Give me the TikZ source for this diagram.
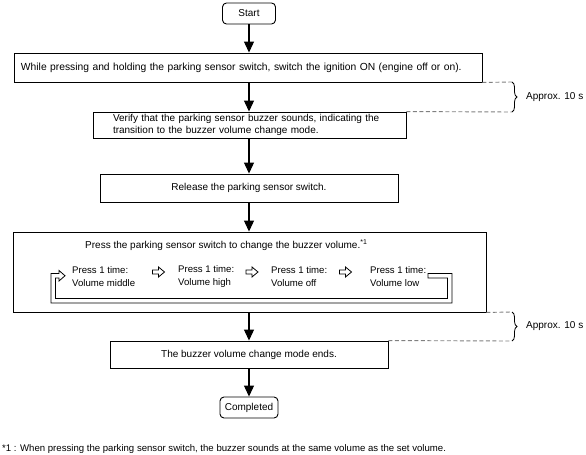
\documentclass[tikz,border=0pt]{standalone}
\usepackage{fontspec}
\setmainfont{Liberation Sans}
\usetikzlibrary{arrows.meta,decorations.pathreplacing}
\begin{document}
\begin{tikzpicture}[x=1bp,y=-1bp,
  every node/.style={font=\fontsize{10bp}{11.5bp}\selectfont, inner sep=0pt},
  itemtext/.style={anchor=west, align=left, font=\fontsize{9.6bp}{12.5bp}\selectfont},
  stepbox/.style={draw, line width=0.9bp, rectangle},
  termbox/.style={draw, line width=0.9bp, rounded corners=4bp},
  arr/.style={line width=1.1bp, -{Triangle[width=10bp,length=11bp]}},
  dashline/.style={draw=gray, line width=0.9bp, dash pattern=on 4bp off 2.5bp},
  bracedeco/.style={decorate, decoration={brace, amplitude=5bp}, line width=0.8bp},
  hollowarr/.pic={\draw[line width=0.8bp, line join=miter] (-6,-2) -- (0,-2) -- (0,-5) -- (6,0) -- (0,5) -- (0,2) -- (-6,2) -- cycle;}
]
\useasboundingbox (0,0) rectangle (586,455);

\node[termbox, minimum width=53bp, minimum height=21bp] (start) at (249,13.5) {Start};
\node[stepbox, minimum width=468bp, minimum height=29bp, text width=454bp, inner xsep=7bp, align=left, font=\fontsize{10.3bp}{12bp}\selectfont] (b1) at (248,67.5)
  {While pressing and holding the parking sensor switch, switch the ignition ON (engine off or on).};
\node[stepbox, minimum width=313bp, minimum height=26bp, text width=273bp, inner xsep=20bp, align=left] (b2) at (249.5,125)
  {Verify that the parking sensor buzzer sounds, indicating the\\transition to the buzzer volume change mode.};
\node[stepbox, minimum width=298bp, minimum height=28bp] (b3) at (249,188)
  {Release the parking sensor switch.};
\node[stepbox, minimum width=473bp, minimum height=80bp] (b4) at (249.5,272) {};
\node[anchor=west] (title) at (85,245)
  {Press the parking sensor switch to change the buzzer volume.\textsuperscript{*1}};
\node[itemtext] (v1) at (72,276.5) {Press 1 time:\\Volume middle};
\node[itemtext] (v2) at (178,276.5) {Press 1 time:\\Volume high};
\node[itemtext] (v3) at (271,276.5) {Press 1 time:\\Volume off};
\node[itemtext] (v4) at (370,276.5) {Press 1 time:\\Volume low};
\pic at (158.5,272) {hollowarr};
\pic at (252,272) {hollowarr};
\pic at (345.5,272) {hollowarr};
% loop
\draw[line width=0.8bp, line join=miter]
  (428,273.5) -- (452,273.5) -- (452,303) -- (51,303) -- (51,273.5) -- (59,273.5)
  -- (59,270.5) -- (65,275.75) -- (59,281) -- (59,278) -- (55.5,278) -- (55.5,298.5)
  -- (447.5,298.5) -- (447.5,278) -- (428,278) -- cycle;
\node[stepbox, minimum width=278bp, minimum height=27bp] (b5) at (249,354.5)
  {The buzzer volume change mode ends.};
\node[termbox, minimum width=58bp, minimum height=21bp] (done) at (249,407.5) {Completed};
\node[anchor=west, font=\fontsize{9.6bp}{11bp}\selectfont] (note) at (2,449)
  {*1 : When pressing the parking sensor switch, the buzzer sounds at the same volume as the set volume.};

\draw[arr] (start.south) -- (start.south |- b1.north);
\draw[arr] (b1.south -| start.south) -- (start.south |- b2.north);
\draw[arr] (b2.south -| start.south) -- (start.south |- b3.north);
\draw[arr] (b3.south -| start.south) -- (start.south |- b4.north);
\draw[arr] (b4.south -| start.south) -- (start.south |- b5.north);
\draw[arr] (b5.south -| start.south) -- (done.north);

% timing braces
\coordinate (t1a) at (512,82);
\coordinate (t1b) at (512,112);
\draw[dashline] (b1.south east) -- (t1a);
\draw[dashline] (b2.north east) -- (t1b);
\draw[bracedeco] (t1a) -- (t1b);
\node[anchor=west] (a1) at (526,97) {Approx. 10 s};
\coordinate (t2a) at (512,312);
\coordinate (t2b) at (512,341);
\draw[dashline] (b4.south east) -- (t2a);
\draw[dashline] (b5.north east) -- (t2b);
\draw[bracedeco] (t2a) -- (t2b);
\node[anchor=west] (a2) at (526,326.5) {Approx. 10 s};
\end{tikzpicture}
\end{document}
